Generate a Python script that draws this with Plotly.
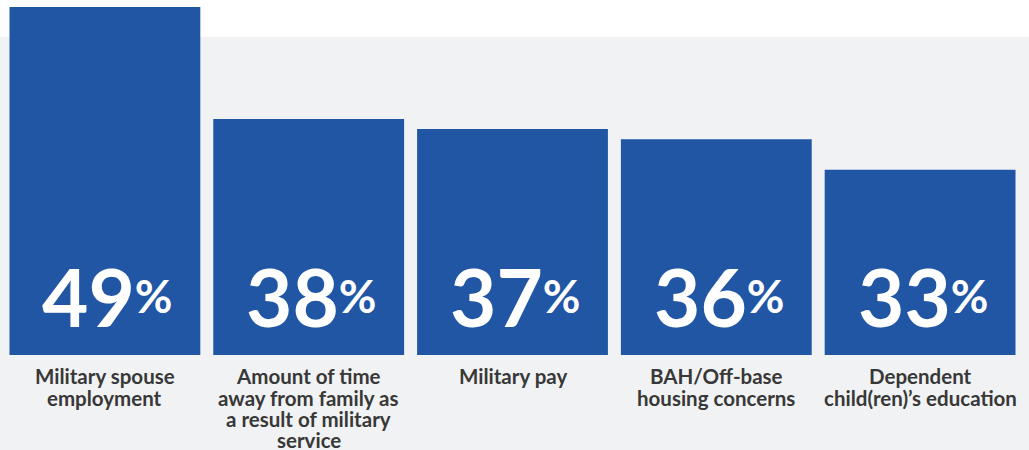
import plotly.graph_objects as go

categories = [
    "Military spouse<br>employment",
    "Amount of time<br>away from family as<br>a result of military<br>service",
    "Military pay",
    "BAH/Off-base<br>housing concerns",
    "Dependent<br>child(ren)’s education",
]
values = [49, 38, 37, 36, 33]

BAR = "#2156A5"
GREY = "#F1F2F4"
TXT = "#383838"

PLOT_TOP = 7
PLOT_BOTTOM = 355
PLOT_H = PLOT_BOTTOM - PLOT_TOP

fig = go.Figure()
fig.add_trace(go.Bar(
    x=list(range(len(values))),
    y=values,
    marker=dict(color=BAR, line=dict(width=0)),
    hoverinfo="skip",
    showlegend=False,
))

annotations = []
for i, v in enumerate(values):
    annotations.append(dict(
        x=i, y=0.17, xref="x", yref="paper",
        text=(f"<b>{v}</b><span style='font-size:46px;baseline-shift:14px'>"
              f"<b>%</b></span>"),
        showarrow=False, xanchor="center", yanchor="middle",
        xshift=3,
        font=dict(family="Lato", size=80, color="white"),
    ))
    lines = categories[i].split("<br>")
    for j, ln in enumerate(lines):
        ypx = 376.5 + j * 21.2
        annotations.append(dict(
            x=i, y=(PLOT_BOTTOM - ypx) / PLOT_H, xref="x", yref="paper",
            text=f"<b>{ln}</b>",
            showarrow=False, xanchor="center", yanchor="middle",
            font=dict(family="Lato", size=20.5, color=TXT),
        ))

fig.update_layout(
    width=1029, height=450,
    margin=dict(l=2.5, r=6.5, t=PLOT_TOP, b=450 - PLOT_BOTTOM, pad=0),
    paper_bgcolor="white",
    plot_bgcolor="rgba(0,0,0,0)",
    bargap=13 / 204,
    xaxis=dict(range=[-0.5, 4.5], visible=False, fixedrange=True),
    yaxis=dict(range=[14.8, 49], visible=False, fixedrange=True),
    shapes=[dict(
        type="rect", xref="paper", yref="paper", layer="below",
        x0=-0.01, x1=1.02,
        y0=(PLOT_BOTTOM - 460) / PLOT_H, y1=(PLOT_BOTTOM - 37) / PLOT_H,
        fillcolor=GREY, line=dict(width=0),
    )],
    annotations=annotations,
)

fig.write_html("out.html")
